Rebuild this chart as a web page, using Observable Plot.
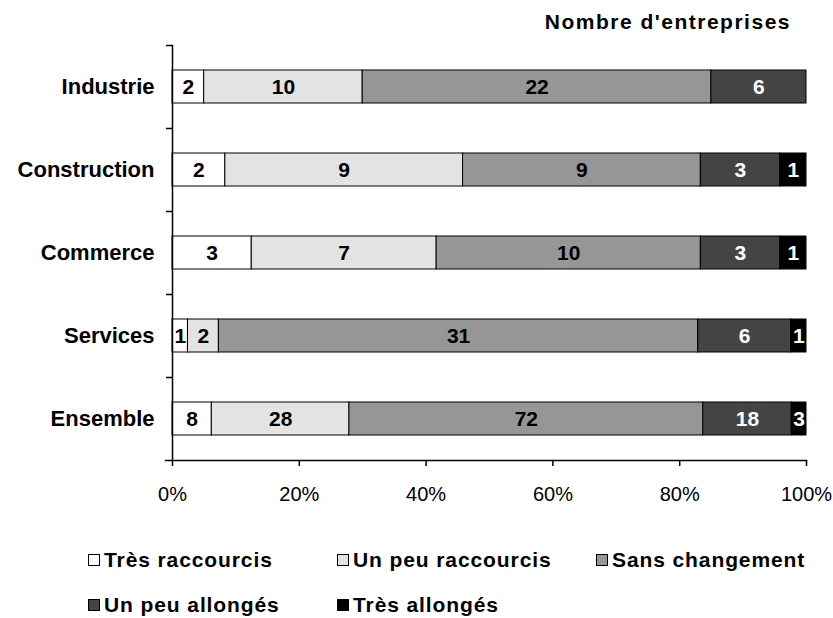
<!DOCTYPE html>
<html>
<head>
<meta charset="utf-8">
<script src="https://cdn.jsdelivr.net/npm/d3@7"></script>
<script src="https://cdn.jsdelivr.net/npm/@observablehq/plot@0.6"></script>
<style>
  body { margin: 0; background: #fff; font-family: "Liberation Sans", Arial, sans-serif; }
  #page { position: relative; width: 833px; height: 618px; }
  #title { height: 36px; padding-top: 4px; line-height: 36px; text-align: right; padding-right: 42px;
           font-weight: bold; font-size: 21px; letter-spacing: 1.5px; }
  #chart svg { display: block; }
  #legend { position: absolute; left: 0; top: 0; width: 833px; height: 618px; pointer-events: none;
            font-weight: bold; font-size: 21px; letter-spacing: 0.9px; }
  .item { position: absolute; display: flex; align-items: center; height: 24px; white-space: nowrap; }
  .sw { width: 10px; height: 10px; border: 1px solid #000; margin-right: 4px; flex: none; }
</style>
</head>
<body>
<div id="page">
  <div id="title">Nombre d'entreprises</div>
  <div id="chart"></div>
  <div id="legend"></div>
</div>
<script>
// Secteurs et réponses (nombre d'entreprises)
const categories = ["Industrie", "Construction", "Commerce", "Services", "Ensemble"];
const seriesNames = ["Très raccourcis", "Un peu raccourcis", "Sans changement", "Un peu allongés", "Très allongés"];
const tresRaccourcis = [2, 2, 3, 1, 8];
const peuRaccourcis = [10, 9, 7, 2, 28];
const sansChangement = [22, 9, 10, 31, 72];
const peuAllonges = [6, 3, 3, 6, 18];
const tresAllonges = [0, 1, 1, 1, 3];
const seriesColors = ["#ffffff", "#e3e3e3", "#969696", "#444444", "#000000"];
const labelColors = ["#000000", "#000000", "#000000", "#ffffff", "#ffffff"];
const xTicks = [0, 0.2, 0.4, 0.6, 0.8, 1];

const seriesValues = [tresRaccourcis, peuRaccourcis, sansChangement, peuAllonges, tresAllonges];
const rows = [];
categories.forEach((cat, i) => {
  seriesNames.forEach((s, j) => {
    rows.push({cat, series: s, value: seriesValues[j][i], labelColor: labelColors[j]});
  });
});

const font = "'Liberation Sans', Arial, sans-serif";

const chart = Plot.plot({
  width: 833,
  height: 480,
  marginTop: 5,
  marginBottom: 60,
  marginLeft: 172,
  marginRight: 27,
  style: {fontFamily: font, background: "#fff"},
  x: {domain: [0, 1]},
  y: {domain: categories, paddingInner: 0.6, paddingOuter: 0.3},
  color: {domain: seriesNames, range: seriesColors},
  marks: [
    Plot.barX(rows, Plot.stackX({
      x: "value", y: "cat", z: "series", fill: "series", offset: "normalize",
      stroke: "#000", strokeWidth: 1
    })),
    Plot.text(rows, Plot.stackX({
      x: "value", y: "cat", z: "series", offset: "normalize",
      text: d => String(d.value), fill: "labelColor",
      filter: d => d.value > 0,
      fontSize: 21, fontWeight: "bold", letterSpacing: 1
    })),
    Plot.frame({anchor: "left", stroke: "#000", strokeWidth: 1.5}),
    Plot.frame({anchor: "bottom", stroke: "#000", strokeWidth: 1.5, insetLeft: -7}),
    // ticks between the category bands
    Plot.axisY({tickSize: 6, dy: -41.5, tickFormat: () => "", strokeWidth: 1.5, label: null, ticks: categories}),
    Plot.axisY({tickSize: 0, tickPadding: 18, fontSize: 22, fontWeight: "bold", letterSpacing: 2,
                label: null, ticks: categories}),
    Plot.axisX({ticks: xTicks, tickFormat: d3.format(".0%"), tickSize: 6, tickPadding: 20,
                fontSize: 20, label: null, strokeWidth: 1.5})
  ]
});
document.getElementById("chart").appendChild(chart);

// légende en deux lignes
const legendSlots = [[88, 548], [337, 548], [596, 548], [88, 593], [337, 593]];
const legend = document.getElementById("legend");
seriesNames.forEach((s, j) => {
  const item = document.createElement("div");
  item.className = "item";
  item.style.left = legendSlots[j][0] + "px";
  item.style.top = legendSlots[j][1] + "px";
  const sw = document.createElement("span");
  sw.className = "sw";
  sw.style.background = seriesColors[j];
  const label = document.createElement("span");
  label.textContent = s;
  item.appendChild(sw);
  item.appendChild(label);
  legend.appendChild(item);
});
</script>
</body>
</html>
